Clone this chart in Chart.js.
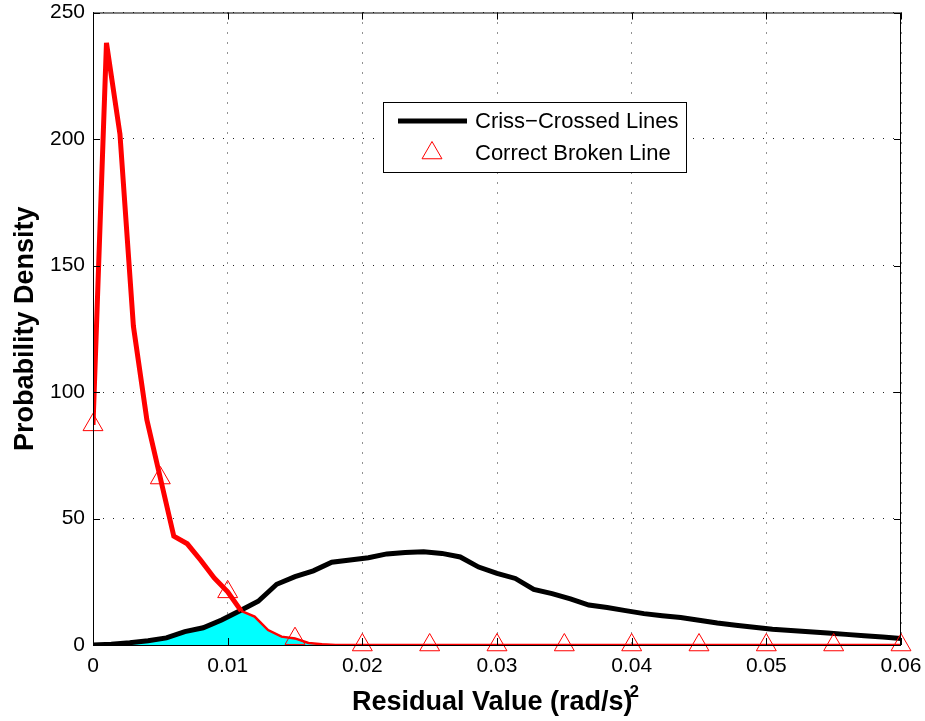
<!DOCTYPE html>
<html>
<head>
<meta charset="utf-8">
<style>
  html, body { margin: 0; padding: 0; background: #fff; }
  #wrap { width: 925px; height: 721px; }
</style>
<script src="https://cdn.jsdelivr.net/npm/chart.js@4.4.1/dist/chart.umd.min.js"></script>
</head>
<body>
<div id="wrap"><canvas id="chart" width="925" height="721"></canvas></div>
<script>
const xTicks = [0, 0.01, 0.02, 0.03, 0.04, 0.05, 0.06];
const yTicks = [0, 50, 100, 150, 200, 250];

// criss-crossed lines density, 45 bins over 0..0.06
const crissX = [0, 0.00136, 0.00273, 0.00409, 0.00545, 0.00682, 0.00818, 0.00955, 0.01091, 0.01227,
  0.01364, 0.015, 0.01636, 0.01773, 0.01909, 0.02045, 0.02182, 0.02318, 0.02455, 0.02591,
  0.02727, 0.02864, 0.03, 0.03136, 0.03273, 0.03409, 0.03545, 0.03682, 0.03818, 0.03955,
  0.04091, 0.04227, 0.04364, 0.045, 0.04636, 0.04773, 0.04909, 0.05045, 0.05182, 0.05318,
  0.05455, 0.05591, 0.05727, 0.05864, 0.06];
const crissY = [0, 0.3, 0.9, 1.7, 2.8, 5.3, 6.8, 9.9, 13.5, 17.3,
  24.0, 27.0, 29.3, 32.7, 33.6, 34.5, 36.0, 36.6, 36.9, 36.2,
  34.8, 30.8, 28.3, 26.3, 22.0, 20.3, 18.2, 15.8, 14.8, 13.6,
  12.4, 11.6, 10.9, 9.8, 8.7, 7.8, 7.0, 6.2, 5.7, 5.2,
  4.7, 4.2, 3.7, 3.2, 2.6];

// correct broken line density
const brokenX = [0, 0.001, 0.002, 0.003, 0.004, 0.005, 0.006, 0.007, 0.008, 0.009,
  0.010, 0.011, 0.012, 0.013, 0.014, 0.015, 0.016, 0.017, 0.018, 0.06];
const brokenY = [87, 238, 202, 126, 89, 66, 43, 40, 33.5, 26.5,
  21, 13.5, 11.2, 5.9, 3.3, 2.6, 0.8, 0.3, 0, 0];
const brokenSplit = 11; // thick up to the crossing, thin after

// triangle markers on the broken line
const markX = [0, 0.005, 0.01, 0.015, 0.02, 0.025, 0.03, 0.035, 0.04, 0.045, 0.05, 0.055, 0.06];
const markY = [87, 66, 21, 2.5, 0, 0, 0, 0, 0, 0, 0, 0, 0];

// shaded overlap of the two densities
const overlapX = [0, 0.00136, 0.00273, 0.00409, 0.00545, 0.00682, 0.00818, 0.00955, 0.011,
  0.012, 0.013, 0.014, 0.015, 0.016, 0.017, 0.018];
const overlapY = [0, 0.3, 0.9, 1.7, 2.8, 5.3, 6.8, 9.9, 13.5,
  11.2, 5.9, 3.3, 2.6, 0.8, 0.3, 0];

const pts = (xs, ys) => xs.map((x, i) => ({ x: x, y: ys[i] }));
const brokenPts = pts(brokenX, brokenY);

const FONT = "'Liberation Sans', Arial, Helvetica, sans-serif";

const frame = {
  id: 'frame',
  afterDatasetsDraw(chart) {
    const { ctx, chartArea: a, scales } = chart;
    ctx.save();
    ctx.strokeStyle = '#000';
    ctx.lineWidth = 1;
    ctx.strokeRect(a.left + 0.5, a.top + 0.5, a.right - a.left - 1, a.bottom - a.top);
    // inward tick marks on all four sides
    const len = 7;
    ctx.beginPath();
    xTicks.forEach(v => {
      const px = Math.round(scales.x.getPixelForValue(v)) + 0.5;
      ctx.moveTo(px, a.bottom); ctx.lineTo(px, a.bottom - len);
      ctx.moveTo(px, a.top); ctx.lineTo(px, a.top + len);
    });
    yTicks.forEach(v => {
      const py = Math.round(scales.y.getPixelForValue(v)) + 0.5;
      ctx.moveTo(a.left, py); ctx.lineTo(a.left + len, py);
      ctx.moveTo(a.right, py); ctx.lineTo(a.right - len, py);
    });
    ctx.stroke();
    ctx.restore();
  },
  afterDraw(chart) {
    const { ctx, chartArea: a } = chart;
    ctx.save();
    ctx.fillStyle = '#000';

    // y title
    ctx.font = 'bold 27px ' + FONT;
    ctx.textAlign = 'center';
    ctx.textBaseline = 'alphabetic';
    ctx.translate(33, (a.top + a.bottom) / 2);
    ctx.rotate(-Math.PI / 2);
    ctx.fillText('Probability Density', 0, 0);
    ctx.setTransform(1, 0, 0, 1, 0, 0);

    // x title with superscript
    const main = 'Residual Value (rad/s)';
    ctx.font = 'bold 27px ' + FONT;
    const wMain = ctx.measureText(main).width;
    ctx.font = 'bold 17px ' + FONT;
    const wSup = ctx.measureText('2').width;
    const start = (a.left + a.right) / 2 - 1.5 - (wMain + wSup - 3) / 2;
    ctx.textAlign = 'left';
    ctx.font = 'bold 27px ' + FONT;
    ctx.fillText(main, start, 710);
    ctx.font = 'bold 17px ' + FONT;
    ctx.fillText('2', start + wMain - 3, 697);

    // legend
    const lx = 383.5, ly = 102.5, lw = 303, lh = 70;
    ctx.fillStyle = '#fff';
    ctx.fillRect(lx, ly, lw, lh);
    ctx.strokeStyle = '#000';
    ctx.lineWidth = 1;
    ctx.strokeRect(lx, ly, lw, lh);
    ctx.lineWidth = 5;
    ctx.beginPath();
    ctx.moveTo(398, 121); ctx.lineTo(467, 121);
    ctx.stroke();
    ctx.strokeStyle = '#ff0000';
    ctx.lineWidth = 1;
    const r = 11.5, tx = 432, ty = 153;
    ctx.beginPath();
    ctx.moveTo(tx, ty - r);
    ctx.lineTo(tx + r * Math.sin(2 * Math.PI / 3), ty + r / 2);
    ctx.lineTo(tx - r * Math.sin(2 * Math.PI / 3), ty + r / 2);
    ctx.closePath();
    ctx.stroke();
    ctx.fillStyle = '#000';
    ctx.font = '22px ' + FONT;
    ctx.textBaseline = 'middle';
    ctx.fillText('Criss\u2212Crossed Lines', 475, 122);
    ctx.fillText('Correct Broken Line', 475, 154);
    ctx.restore();
  }
};

new Chart(document.getElementById('chart'), {
  type: 'line',
  data: {
    datasets: [
      {
        label: 'markers',
        data: pts(markX, markY),
        showLine: false,
        pointStyle: 'triangle',
        pointRadius: 11.5,
        pointBorderWidth: 1,
        pointBorderColor: '#ff0000',
        pointBackgroundColor: 'rgba(0,0,0,0)',
        clip: false,
        order: 0
      },
      {
        label: 'broken thin',
        data: brokenPts.slice(brokenSplit),
        borderColor: '#ff0000',
        borderWidth: 2.5,
        pointRadius: 0,
        order: 1
      },
      {
        label: 'broken',
        data: brokenPts.slice(0, brokenSplit + 1),
        borderColor: '#ff0000',
        borderWidth: 5,
        pointRadius: 0,
        order: 2
      },
      {
        label: 'criss',
        data: pts(crissX, crissY),
        borderColor: '#000',
        borderWidth: 5,
        pointRadius: 0,
        order: 3
      },
      {
        label: 'overlap',
        data: pts(overlapX, overlapY),
        borderColor: '#000',
        borderWidth: 1,
        backgroundColor: '#00ffff',
        fill: 'origin',
        pointRadius: 0,
        order: 4
      }
    ]
  },
  options: {
    responsive: false,
    animation: false,
    events: [],
    layout: { padding: { left: 0, top: 12, right: 24, bottom: 0 } },
    plugins: {
      legend: { display: false },
      tooltip: { enabled: false },
      filler: { propagate: false }
    },
    scales: {
      x: {
        type: 'linear',
        min: 0,
        max: 0.06,
        afterBuildTicks: (scale) => { scale.ticks = xTicks.map(v => ({ value: v })); },
        afterFit: (scale) => {
          scale.height = 76;
          scale.paddingLeft = 0;
          scale.paddingRight = 0;
        },
        grid: { color: '#222', lineWidth: 1, drawTicks: false },
        border: { display: false, dash: [1, 9] },
        ticks: {
          color: '#000',
          padding: 9,
          maxRotation: 0,
          autoSkip: false,
          font: { family: FONT, size: 21 },
          callback: (v) => v === 0 ? '0' : v.toFixed(2)
        }
      },
      y: {
        type: 'linear',
        min: 0,
        max: 250,
        afterBuildTicks: (scale) => { scale.ticks = yTicks.map(v => ({ value: v })); },
        afterFit: (scale) => {
          scale.width = 93;
          scale.paddingTop = 0;
          scale.paddingBottom = 0;
        },
        grid: { color: '#222', lineWidth: 1, drawTicks: false },
        border: { display: false, dash: [1, 9] },
        ticks: {
          color: '#000',
          padding: 8,
          autoSkip: false,
          font: { family: FONT, size: 21 }
        }
      }
    }
  },
  plugins: [frame]
});
</script>
</body>
</html>
